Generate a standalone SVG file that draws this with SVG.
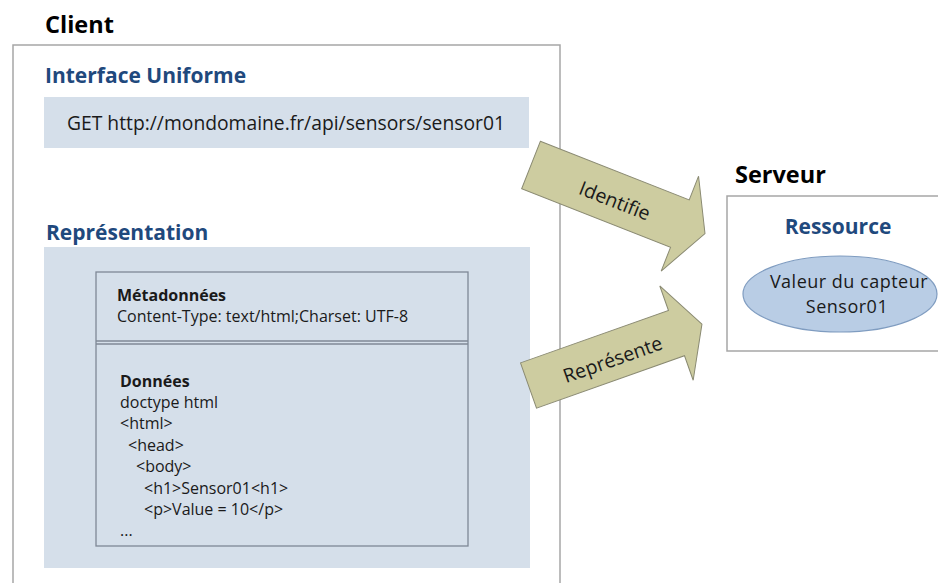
<svg xmlns="http://www.w3.org/2000/svg" width="938" height="583" viewBox="0 0 938 583">
<defs>
<style>
text{font-family:"Open Sans","Liberation Sans",sans-serif;fill:#1a1a1a}
.title{font-size:23.5px;font-weight:bold;fill:#000}
.head{font-size:21px;font-weight:bold;fill:#1F497D}
.body{font-size:16px}
.bold{font-weight:bold}
.frame{fill:#fff;stroke:#a6a6a6;stroke-width:1.5}
.blue{fill:#d5dfea}
.inner{fill:none;stroke:#7f8896;stroke-width:1.3}
.arrow{fill:#cdcca0;stroke:#8a8a72;stroke-width:1}
.atext{font-size:19.5px;text-anchor:middle;dominant-baseline:central}
.ell{font-size:18px;text-anchor:middle;letter-spacing:0.5px}
</style>
</defs>
<rect width="938" height="583" fill="#fff"/>

<g id="client">
<text class="title" x="45" y="33">Client</text>
<rect class="frame" x="13" y="45" width="547" height="545"/>
</g>

<g id="interface">
<text class="head" x="45" y="83">Interface Uniforme</text>
<rect class="blue" x="44" y="97" width="485" height="51"/>
<text x="67" y="130" style="font-size:19.3px">GET http://mondomaine.fr/api/sensors/sensor01</text>
</g>

<g id="representation">
<text class="head" x="46" y="240">Représentation</text>
<rect class="blue" x="44" y="247" width="486" height="321"/>
<rect class="inner" x="96" y="272" width="372" height="274"/>
<line class="inner" x1="96" y1="341" x2="468" y2="341"/>
<line class="inner" x1="96" y1="344" x2="468" y2="344"/>
<text class="body bold" x="117" y="301">Métadonnées</text>
<text class="body" x="117" y="322">Content-Type: text/html;Charset: UTF-8</text>
<text class="body bold" x="120" y="387">Données</text>
<text class="body" x="120" y="408">doctype html</text>
<text class="body" x="120" y="429">&lt;html&gt;</text>
<text class="body" x="128" y="451">&lt;head&gt;</text>
<text class="body" x="136" y="472">&lt;body&gt;</text>
<text class="body" x="144" y="494">&lt;h1&gt;Sensor01&lt;h1&gt;</text>
<text class="body" x="144" y="515">&lt;p&gt;Value = 10&lt;/p&gt;</text>
<text class="body" x="120" y="536">...</text>
</g>

<g id="serveur">
<text class="title" x="735" y="183">Serveur</text>
<rect class="frame" x="727" y="196" width="220" height="155"/>
<text class="head" x="838" y="234" text-anchor="middle">Ressource</text>
</g>

<g id="ressource">
<ellipse cx="840" cy="294" rx="97" ry="38" fill="#b9cde5" stroke="#7f9cc0" stroke-width="1.2"/>
<text class="ell" x="849" y="288">Valeur du capteur</text>
<text class="ell" x="847" y="313">Sensor01</text>
</g>

<g id="connectors">
<g transform="translate(531,165) rotate(21.5)">
<polygon class="arrow" points="0,-25.5 160,-25.5 160,-51 187,0 160,51 160,25.5 0,25.5"/>
<text class="atext" x="91" y="2">Identifie</text>
</g>
<g transform="translate(528.5,385.5) rotate(-19.5)">
<polygon class="arrow" points="0,-24 157,-24 157,-50 184,0 157,50 157,24 0,24"/>
<text class="atext" x="88" y="3">Représente</text>
</g>
</g>
</svg>
